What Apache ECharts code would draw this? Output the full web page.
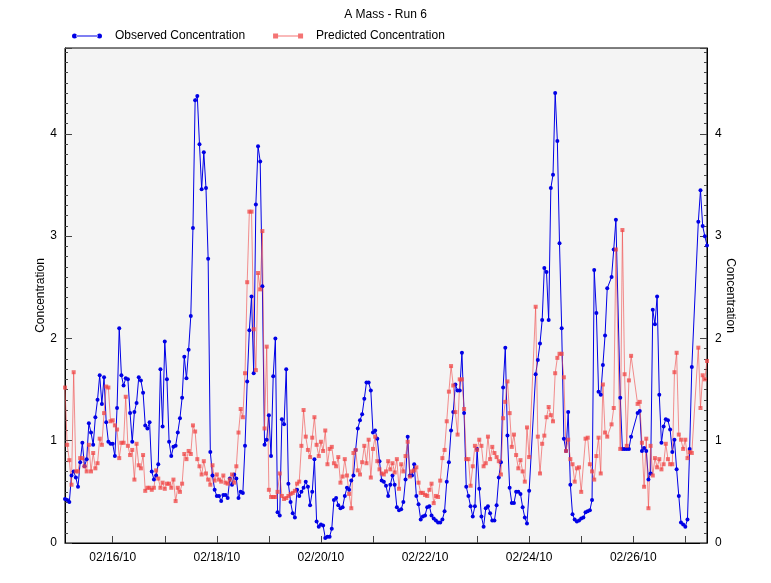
<!DOCTYPE html>
<html><head><meta charset="utf-8">
<script src="https://cdn.jsdelivr.net/npm/echarts@6/dist/echarts.min.js"></script>
<style>html,body{margin:0;padding:0;background:#fff;}#chart{width:771px;height:583px;}</style>
</head><body><div id="chart"></div>
<script>
const chartTitle = 'A Mass - Run 6';
const seriesNames = ['Observed Concentration', 'Predicted Concentration'];
const axisName = 'Concentration';
// hourly samples starting 02/15/10 02:00 and ending 02/27/10 10:00
const startTime = [2010, 1, 15, 2];
const endTime = [2010, 1, 27, 10];
const yMin = 0, yMax = 4.84, yStep = 1;

const observed = [
0.43,0.42,0.40,0.66,0.70,0.64,0.55,0.79,0.98,0.75,
0.82,1.17,1.08,0.96,1.23,1.40,1.64,1.36,1.62,1.18,
0.99,0.97,0.97,0.85,1.32,2.10,1.64,1.54,1.61,1.60,
1.27,0.99,1.28,1.37,1.62,1.59,1.47,1.15,1.12,1.18,
0.70,0.62,0.66,0.77,1.70,1.14,1.97,1.60,0.99,0.85,
0.94,0.95,1.08,1.22,1.42,1.82,1.61,1.89,2.22,3.08,
4.33,4.37,3.90,3.46,3.82,3.47,2.78,0.89,0.66,0.52,
0.46,0.46,0.41,0.47,0.47,0.44,0.63,0.57,0.67,0.63,
0.44,0.50,0.49,0.95,1.58,2.08,2.41,1.66,3.31,3.88,
3.73,2.51,0.96,1.01,1.25,0.85,1.63,2.00,0.30,0.27,
1.21,1.16,1.70,0.58,0.40,0.29,0.25,0.52,0.46,0.50,
0.54,0.60,0.55,0.37,0.50,0.82,0.21,0.16,0.18,0.17,
0.05,0.06,0.06,0.14,0.42,0.44,0.37,0.34,0.35,0.46,
0.54,0.52,0.61,0.66,0.91,1.12,1.20,1.26,1.41,1.57,
1.57,1.49,1.08,1.10,1.02,0.80,0.61,0.60,0.56,0.46,
0.57,0.66,0.57,0.35,0.32,0.33,0.40,0.62,1.04,0.66,
0.66,0.77,0.46,0.38,0.23,0.26,0.27,0.35,0.36,0.27,
0.24,0.22,0.20,0.20,0.23,0.31,0.60,0.79,1.10,1.28,
1.55,1.49,1.49,1.86,1.27,0.55,0.46,0.36,0.26,0.36,
0.92,0.53,0.26,0.16,0.34,0.36,0.29,0.22,0.22,0.37,
0.64,0.79,1.52,1.91,1.05,0.54,0.39,0.39,0.50,0.50,
0.48,0.35,0.25,0.19,0.51,null,null,1.65,1.79,1.95,
2.18,2.69,2.65,2.18,3.47,3.60,4.40,3.93,2.93,2.10,
1.02,0.90,1.28,0.57,0.28,0.23,0.21,0.22,0.24,0.25,
0.30,0.31,0.32,0.42,2.67,2.25,1.48,1.45,1.74,2.03,
2.49,null,2.60,2.87,3.16,null,1.42,0.92,0.92,0.92,
0.92,1.04,null,null,1.27,1.29,0.90,0.93,0.90,0.62,
0.68,2.28,2.14,2.41,1.45,0.98,1.14,1.21,1.20,1.11,
0.89,1.01,0.72,0.46,0.20,0.18,0.16,0.23,0.92,1.72,
null,null,3.14,3.45,3.10,3.00,2.91
];

const predicted = [
1.52,0.96,0.81,0.57,1.67,0.70,0.70,0.83,0.83,0.75,
0.70,0.96,0.70,0.88,0.73,0.78,1.02,0.96,1.27,1.53,
1.52,1.19,1.20,1.15,1.11,0.83,0.98,0.98,1.43,0.95,
0.86,0.91,0.62,0.97,0.76,0.73,0.86,0.51,0.54,0.54,
0.52,0.54,0.71,0.63,0.54,0.59,0.53,0.58,0.58,0.54,
0.62,0.41,0.54,0.50,0.58,0.87,0.82,0.90,0.87,1.15,
1.09,0.82,0.75,0.67,0.80,0.68,0.62,0.57,0.76,0.61,
0.67,0.62,0.60,0.66,0.59,0.58,0.62,0.67,0.59,0.75,
1.08,1.31,1.23,1.66,2.55,3.24,3.24,2.09,1.69,2.64,
2.48,3.05,1.12,1.92,0.52,0.45,0.45,0.45,0.50,0.68,
0.46,0.43,0.44,0.46,0.48,0.49,0.51,0.58,0.60,0.95,
1.30,1.04,0.91,0.84,1.03,1.23,0.96,0.85,0.99,0.90,
1.10,0.77,0.92,0.94,0.78,0.75,0.84,0.59,0.65,0.82,
0.66,0.48,0.34,0.88,0.91,0.71,0.67,0.79,0.95,0.78,
1.01,0.64,0.92,1.04,0.80,0.72,0.68,0.67,0.70,0.80,
0.72,0.78,0.69,0.82,0.53,0.77,0.70,0.85,0.99,0.65,
0.70,0.71,0.74,0.59,0.49,0.49,0.47,0.46,0.52,0.58,
0.39,0.46,0.45,0.61,0.83,0.91,1.19,1.48,1.73,1.54,
1.28,1.06,1.60,1.60,1.31,0.82,0.82,0.56,0.75,0.95,
0.91,1.01,0.95,0.75,0.78,1.04,0.82,0.94,0.88,0.84,
0.80,0.67,1.22,1.38,1.58,1.27,0.94,1.06,0.86,0.73,
0.81,0.70,0.60,1.13,0.84,null,null,2.31,1.04,0.68,
0.97,1.05,1.23,1.33,1.25,1.19,1.66,1.81,1.85,1.85,
1.62,0.90,1.01,0.82,0.77,0.60,0.73,0.74,0.50,null,
1.02,1.03,0.77,0.70,0.62,0.85,1.03,0.68,1.55,1.08,
1.04,null,1.16,1.32,2.87,null,0.92,3.06,1.65,0.95,
1.59,1.83,null,null,1.36,1.38,0.98,0.55,1.02,0.34,
0.95,0.66,0.83,0.74,0.82,0.72,0.77,0.97,0.82,0.77,
0.77,1.67,1.86,1.06,1.01,0.92,1.01,0.83,0.89,0.88,
null,null,1.91,1.32,1.64,1.60,1.78
];

const HOUR = 3600000, DAY = 24 * HOUR;
const t0 = new Date(startTime[0], startTime[1], startTime[2], startTime[3]).getTime();
const t1 = new Date(endTime[0], endTime[1], endTime[2], endTime[3]).getTime();
const toPairs = arr => arr.map((v, i) => [t0 + i * HOUR, v]);
const pad = n => (n < 10 ? '0' : '') + n;
const FONT = "'Liberation Sans', Arial, sans-serif";

const dotLineIcon = 'path://M0,3A2.5,2.5 0 1 0 5,3A2.5,2.5 0 1 0 0,3Z M4,2.5L26,2.5L26,3.5L4,3.5Z M25,3A2.5,2.5 0 1 0 30,3A2.5,2.5 0 1 0 25,3Z';
const squareLineIcon = 'path://M0,0.5L5,0.5L5,5.5L0,5.5Z M4,2.5L26,2.5L26,3.5L4,3.5Z M25,0.5L30,0.5L30,5.5L25,5.5Z';

const chart = echarts.init(document.getElementById('chart'), null, {renderer: 'canvas'});

const yAxisCommon = {
  type: 'value', min: yMin, max: yMax, interval: yStep,
  name: axisName, nameLocation: 'middle', nameMoveOverlap: false,
  nameTextStyle: {color: '#000', fontSize: 12, fontFamily: FONT},
  axisLine: {show: true, lineStyle: {color: '#000', width: 1}},
  axisTick: {show: true, inside: true, length: 7, lineStyle: {color: '#444'}},
  minorTick: {show: true, splitNumber: 10, length: 3, lineStyle: {color: '#444'}},
  axisLabel: {color: '#000', fontSize: 12, fontFamily: FONT, margin: 8, showMaxLabel: false},
  splitLine: {show: false}
};

chart.setOption({
  animation: false,
  backgroundColor: '#fff',
  title: {
    text: chartTitle, left: 'center', top: 4,
    textStyle: {fontSize: 12, fontWeight: 'normal', color: '#000', fontFamily: FONT}
  },
  legend: {
    left: 67, top: 25, itemWidth: 30, itemHeight: 6, itemGap: 28,
    textStyle: {fontSize: 12, color: '#000', fontFamily: FONT, padding: [0, 0, 0, 8]},
    data: [
      {name: seriesNames[0], icon: dotLineIcon},
      {name: seriesNames[1], icon: squareLineIcon}
    ]
  },
  grid: {
    left: 65, right: 64, top: 48, bottom: 40,
    show: true, backgroundColor: '#f4f4f4', borderColor: '#000', borderWidth: 1
  },
  xAxis: {
    type: 'time', min: t0, max: t1,
    minInterval: DAY, maxInterval: DAY,
    axisLine: {show: true, lineStyle: {color: '#000'}},
    axisTick: {show: true, inside: true, length: 7, lineStyle: {color: '#444'}},
    splitLine: {show: false},
    axisLabel: {
      color: '#000', fontSize: 12, fontFamily: FONT, margin: 9, hideOverlap: false,
      showMinLabel: false, showMaxLabel: false,
      formatter: function (val) {
        const d = new Date(val);
        if (d.getHours() !== 0 || d.getMinutes() !== 0) return '';
        if (d.getDate() % 2 !== 0) return '';
        return pad(d.getMonth() + 1) + '/' + pad(d.getDate()) + '/' + pad(d.getFullYear() % 100);
      }
    }
  },
  yAxis: [
    Object.assign({}, yAxisCommon, {position: 'left', nameGap: 18, nameRotate: 90}),
    Object.assign({}, yAxisCommon, {position: 'right', nameGap: 17, nameRotate: -90})
  ],
  series: [
    {
      name: seriesNames[0], type: 'line', data: toPairs(observed),
      connectNulls: true, showAllSymbol: true,
      symbol: 'circle', symbolSize: 4,
      lineStyle: {color: '#0000e6', width: 1},
      itemStyle: {color: '#0000e6'},
      color: '#0000e6'
    },
    {
      name: seriesNames[1], type: 'line', data: toPairs(predicted),
      connectNulls: true, showAllSymbol: true,
      symbol: 'rect', symbolSize: 4,
      lineStyle: {color: 'rgba(240,70,70,0.6)', width: 1},
      itemStyle: {color: 'rgba(240,70,70,0.75)'},
      color: 'rgba(240,70,70,0.8)'
    }
  ]
});
</script>
</body></html>
